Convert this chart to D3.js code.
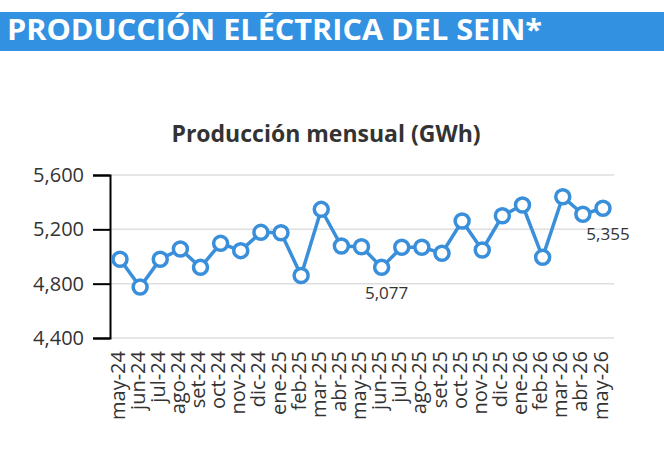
<!DOCTYPE html>
<html>
<head>
<meta charset="utf-8">
<script src="https://cdn.jsdelivr.net/npm/d3@7"></script>
<style>
  body { margin: 0; background: #fff; }
  text { font-family: "Open Sans", sans-serif; }
</style>
</head>
<body>
<div id="chart"></div>
<script>
// Chart values
var months = ["may-24", "jun-24", "jul-24", "ago-24", "set-24", "oct-24", "nov-24", "dic-24",
  "ene-25", "feb-25", "mar-25", "abr-25", "may-25", "jun-25", "jul-25", "ago-25", "set-25",
  "oct-25", "nov-25", "dic-25", "ene-26", "feb-26", "mar-26", "abr-26", "may-26"];
var produccion = [4980, 4775, 4980, 5055, 4920, 5097, 5043, 5178,
  5175, 4860, 5347, 5077, 5072, 4920, 5068, 5068, 5024,
  5261, 5048, 5300, 5379, 4994, 5440, 5311, 5355];
var yTicks = [4400, 4800, 5200, 5600];
var labels = [{ i: 13, text: "5,077" }, { i: 24, text: "5,355" }];

var width = 664, height = 475;
var svg = d3.select("#chart").append("svg")
  .attr("width", width)
  .attr("height", height);

// Header bar
svg.append("rect")
  .attr("x", 0).attr("y", 12)
  .attr("width", width).attr("height", 39)
  .attr("fill", "#3391e2");

svg.append("text")
  .attr("x", 7).attr("y", 40)
  .attr("fill", "#fff")
  .attr("font-size", 28)
  .attr("font-weight", "bold")
  .attr("textLength", 535)
  .attr("lengthAdjust", "spacingAndGlyphs")
  .text("PRODUCCIÓN ELÉCTRICA DEL SEIN*");

svg.append("text")
  .attr("x", 326).attr("y", 142)
  .attr("text-anchor", "middle")
  .attr("fill", "#333")
  .attr("font-size", 23)
  .attr("font-weight", "bold")
  .text("Producción mensual (GWh)");

var x = d3.scalePoint().domain(months).range([120, 603]);
var y = d3.scaleLinear().domain([4400, 5600]).range([338, 175]);

// Gridlines
svg.append("g").selectAll("line")
  .data(yTicks)
  .enter().append("line")
  .attr("x1", 110).attr("x2", 614)
  .attr("y1", d => y(d)).attr("y2", d => y(d))
  .attr("stroke", "#dedede")
  .attr("stroke-width", 1.5);

// Y axis
var yAxis = svg.append("g")
  .attr("transform", "translate(110,0)")
  .call(d3.axisLeft(y).tickValues(yTicks).tickSize(17).tickPadding(9).tickFormat(d3.format(",")));
yAxis.select(".domain").attr("stroke", "#000").attr("stroke-width", 2);
yAxis.selectAll(".tick line").attr("stroke", "#000").attr("stroke-width", 2);
yAxis.selectAll("text")
  .attr("font-size", 20)
  .attr("fill", "#333")
  .style("font-family", "'Open Sans', sans-serif");

// X axis labels
var xAxis = svg.append("g")
  .attr("transform", "translate(0,338)")
  .call(d3.axisBottom(x).tickSize(0).tickPadding(0));
xAxis.select(".domain").remove();
xAxis.selectAll("text")
  .attr("font-size", 20)
  .attr("fill", "#333")
  .style("font-family", "'Open Sans', sans-serif")
  .attr("text-anchor", "end")
  .attr("dy", "0.35em")
  .attr("transform", "translate(-3,13) rotate(-90)")
  .attr("x", 0).attr("y", 0);

// Line
var line = d3.line()
  .x((d, i) => x(months[i]))
  .y(d => y(d));

svg.append("path")
  .datum(produccion)
  .attr("d", line)
  .attr("fill", "none")
  .attr("stroke", "#3a8fdb")
  .attr("stroke-width", 3.5);

svg.append("g").selectAll("circle")
  .data(produccion)
  .enter().append("circle")
  .attr("cx", (d, i) => x(months[i]))
  .attr("cy", d => y(d))
  .attr("r", 7)
  .attr("fill", "#fff")
  .attr("stroke", "#3a8fdb")
  .attr("stroke-width", 3.5);

// Data labels
svg.append("g").selectAll("text")
  .data(labels)
  .enter().append("text")
  .attr("x", d => x(months[d.i]) + 5)
  .attr("y", d => y(produccion[d.i]) + 32)
  .attr("text-anchor", "middle")
  .attr("font-size", 17)
  .attr("fill", "#333")
  .text(d => d.text);
</script>
</body>
</html>
